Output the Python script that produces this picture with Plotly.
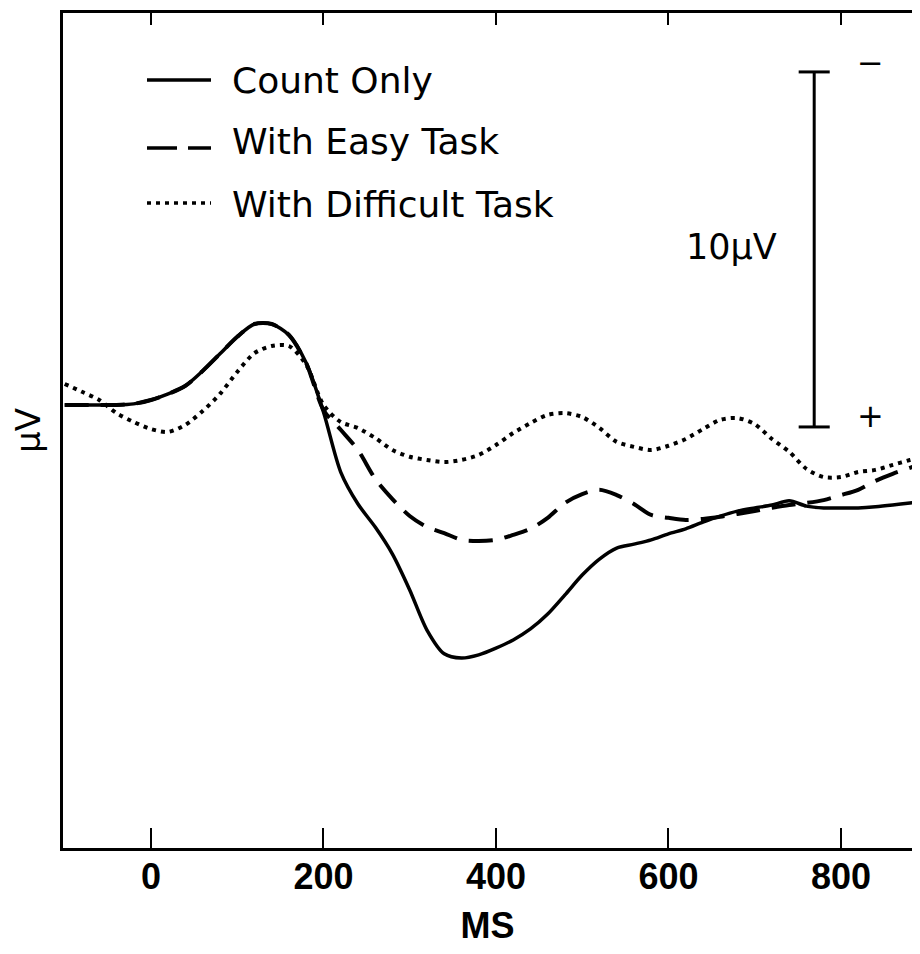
import plotly.graph_objects as go

# time axis, ms
ms = [-100, -80, -60, -40, -20, 0, 20, 40, 60, 80, 100, 120, 140, 160, 180,
      200, 220, 240, 260, 280, 300, 320, 340, 360, 380, 400, 420, 440, 460,
      480, 500, 520, 540, 560, 580, 600, 620, 640, 660, 680, 700, 720, 740,
      760, 780, 800, 820, 840, 860, 880, 890]

# amplitudes in microvolts (negative plotted up)
count_only = [0.0, 0.0, 0.0, 0.0, -0.03, -0.14, -0.31, -0.54, -0.96, -1.44,
              -1.92, -2.28, -2.28, -1.97, -1.18,
              0.20, 1.89, 2.79, 3.44, 4.20, 5.21, 6.34, 7.01, 7.13, 7.04,
              6.85, 6.62, 6.31, 5.89, 5.35, 4.79, 4.34, 4.03, 3.92, 3.80,
              3.63, 3.49, 3.30, 3.13, 2.99, 2.90, 2.82, 2.70, 2.85, 2.90,
              2.90, 2.90, 2.87, 2.82, 2.76, 2.73]

easy_task = [0.0, 0.0, 0.0, 0.0, -0.03, -0.14, -0.31, -0.54, -0.96, -1.44,
             -1.92, -2.28, -2.28, -1.97, -1.18,
             0.14, 0.70, 1.27, 2.08, 2.65, 3.13, 3.44, 3.61, 3.80, 3.83,
             3.80, 3.66, 3.49, 3.18, 2.76, 2.51, 2.39, 2.54, 2.79, 3.10,
             3.18, 3.24, 3.21, 3.15, 3.07, 2.99, 2.90, 2.82, 2.76, 2.68,
             2.54, 2.39, 2.14, 1.94, 1.77, 1.69]

difficult_task = [-0.59, -0.37, -0.14, 0.23, 0.48, 0.68, 0.76, 0.56, 0.17,
                  -0.31, -0.93, -1.46, -1.66, -1.66, -1.13,
                  0.0, 0.48, 0.65, 0.93, 1.27, 1.46, 1.55, 1.61, 1.55, 1.41,
                  1.13, 0.79, 0.51, 0.28, 0.23, 0.34, 0.65, 1.04, 1.18, 1.27,
                  1.15, 0.96, 0.68, 0.42, 0.37, 0.54, 0.96, 1.32, 1.80, 2.03,
                  2.03, 1.89, 1.83, 1.69, 1.55, 1.49]

x_ticks = [0, 200, 400, 600, 800]

# 10 uV calibration bar
bar_ms = 769
bar_top = -9.38
bar_bottom = 0.62
cap_half = 18

x_range = [-102, 882.4]

fig = go.Figure()

fig.add_trace(go.Scatter(
    x=ms, y=count_only, mode='lines', name='Count Only',
    line=dict(color='black', width=3.5, shape='spline', smoothing=0.8),
    showlegend=False
))
fig.add_trace(go.Scatter(
    x=ms, y=easy_task, mode='lines', name='With Easy Task',
    line=dict(color='black', width=4, dash='24px,12px', shape='spline', smoothing=0.8),
    showlegend=False
))
fig.add_trace(go.Scatter(
    x=ms, y=difficult_task, mode='lines', name='With Difficult Task',
    line=dict(color='black', width=4, dash='4px,5px', shape='spline', smoothing=0.8),
    showlegend=False
))

# calibration bar (on the top axis, which shares the range)
fig.add_trace(go.Scatter(
    x=[bar_ms - cap_half, bar_ms + cap_half, None, bar_ms, bar_ms, None,
       bar_ms - cap_half, bar_ms + cap_half],
    y=[bar_top, bar_top, None, bar_top, bar_bottom, None, bar_bottom, bar_bottom],
    mode='lines', line=dict(color='black', width=3),
    showlegend=False, hoverinfo='skip', xaxis='x2'
))

fig.add_annotation(x=bar_ms - 96, y=(bar_top + bar_bottom) / 2 - 0.07, text='10µV',
                   showarrow=False, font=dict(family='DejaVu Sans', size=35, color='black'))
fig.add_annotation(x=bar_ms + 65, y=bar_top - 0.25, text='−',
                   showarrow=False, font=dict(family='DejaVu Sans', size=32, color='black'))
fig.add_annotation(x=bar_ms + 65, y=bar_bottom - 0.3, text='+',
                   showarrow=False, font=dict(family='DejaVu Sans', size=32, color='black'))

# hand-drawn legend (paper coords from the page layout)
plot_w = 849
legend_rows = [
    ('Count Only', 'solid', 80, 80),
    ('With Easy Task', '30px,11px', 148, 142),
    ('With Difficult Task', '4px,5px', 203, 205),
]
for label, dash, line_y, text_y in legend_rows:
    fig.add_shape(type='line', xref='paper', yref='paper',
                  x0=(147 - 63) / plot_w, x1=(211 - 63) / plot_w,
                  y0=(848 - line_y) / 835, y1=(848 - line_y) / 835,
                  line=dict(color='black', width=3.5, dash=dash))
    fig.add_annotation(xref='paper', yref='paper',
                       x=(230 - 63) / plot_w, y=(848 - text_y) / 835,
                       xanchor='left', yanchor='middle', text=label, showarrow=False,
                       font=dict(family='DejaVu Sans', size=36, color='black'))

fig.update_layout(
    xaxis=dict(
        range=x_range,
        tickvals=x_ticks,
        ticks='inside', ticklen=20, tickwidth=2, tickcolor='black',
        showline=True, linewidth=3, linecolor='black', mirror=True,
        showgrid=False, zeroline=False,
        ticklabelstandoff=-5,
        tickfont=dict(family='Liberation Sans', size=36, color='black', weight='bold'),
        title=dict(text='MS', font=dict(family='Liberation Sans', size=36, color='black',
                                        weight='bold'),
                   standoff=29),
    ),
    xaxis2=dict(
        overlaying='x', side='top', range=x_range,
        tickvals=x_ticks, ticks='inside', ticklen=12, tickwidth=2, tickcolor='black',
        showticklabels=False, showline=False, showgrid=False, zeroline=False,
    ),
    yaxis=dict(
        range=[12.48, -11.04],
        showticklabels=False, ticks='',
        showline=True, linewidth=3, linecolor='black', mirror=True,
        showgrid=False, zeroline=False,
        title=dict(text='µV', font=dict(family='DejaVu Sans', size=34, color='black'),
                   standoff=10),
    ),
    width=904, height=938,
    plot_bgcolor='white', paper_bgcolor='white',
    margin=dict(l=55, r=0, t=5, b=98, autoexpand=False),
)

fig.write_html("out.html")
